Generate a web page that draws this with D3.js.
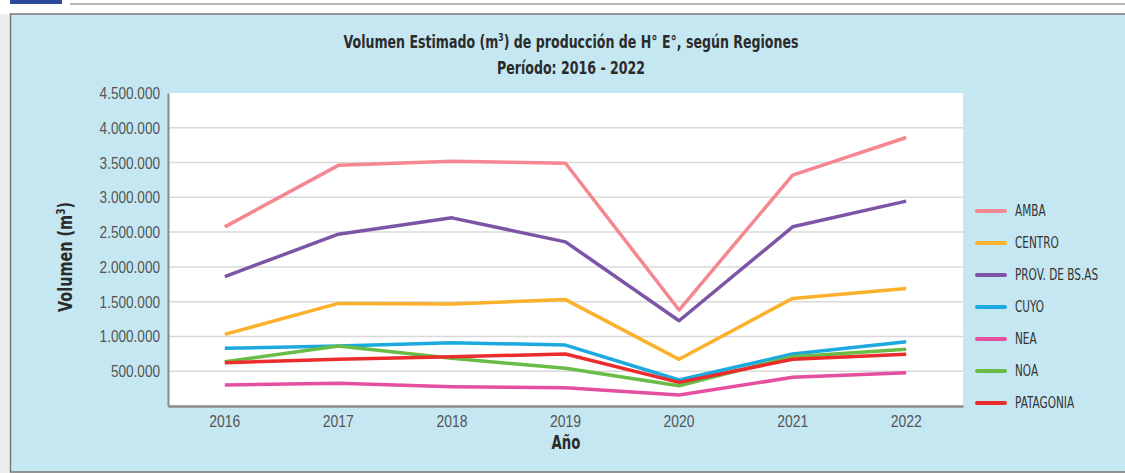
<!DOCTYPE html>
<html lang="es">
<head>
    <meta charset="UTF-8">
    <title>Volumen Estimado de producción de H° E°</title>
    <script src="https://d3js.org/d3.v7.min.js"></script>
    <style>
        body {
            margin: 0;
            background-color: #eeeeee;
            font-family: "DejaVu Sans", sans-serif;
        }
        svg { display: block; }
        .grid line { stroke: #d9d9d9; stroke-width: 1.5px; }
        .tick-label { font-size: 17px; fill: #555; }
        .titulo { font-size: 18px; font-weight: bold; fill: #2b2b2b; }
        .eje-titulo { font-size: 19px; font-weight: bold; fill: #2b2b2b; }
        .leyenda text { font-size: 15px; fill: #333; }
    </style>
</head>
<body>
    <div id="chart"></div>
    <script>
        // Datos
        const anios = ["2016", "2017", "2018", "2019", "2020", "2021", "2022"];
        const regiones = ["AMBA", "CENTRO", "PROV. DE BS.AS", "CUYO", "NEA", "NOA", "PATAGONIA"];
        const colores = ["#f4878f", "#fbb12b", "#7d55a6", "#1ba9e0", "#e64f9f", "#69bc46", "#ec2b2c"];
        const amba = [2575000, 3460000, 3520000, 3490000, 1380000, 3320000, 3860000];
        const centro = [1030000, 1475000, 1466000, 1530000, 671000, 1547000, 1690000];
        const provBsAs = [1860000, 2470000, 2705000, 2360000, 1226000, 2576000, 2945000];
        const cuyo = [829000, 862000, 910000, 876000, 374000, 747000, 924000];
        const nea = [302000, 326000, 277000, 263000, 158000, 412000, 478000];
        const noa = [637000, 862000, 685000, 542000, 292000, 708000, 815000];
        const patagonia = [622000, 671000, 708000, 747000, 340000, 671000, 743000];
        const series = [amba, centro, provBsAs, cuyo, nea, noa, patagonia];
        const yTicks = [500000, 1000000, 1500000, 2000000, 2500000, 3000000, 3500000, 4000000, 4500000];

        const width = 1125, height = 473;
        // la fuente original es condensada: se estrecha el texto en horizontal
        const estrecho = 0.7;

        const svg = d3.select("#chart").append("svg")
            .attr("width", width)
            .attr("height", height);

        // Marco de la página
        svg.append("rect").attr("x", 0).attr("y", 0).attr("width", width).attr("height", 14).attr("fill", "#ffffff");
        svg.append("rect").attr("x", 10).attr("y", 0).attr("width", 52).attr("height", 4).attr("fill", "#2b4a9c");
        svg.append("line").attr("x1", 70).attr("x2", width).attr("y1", 4).attr("y2", 4)
            .attr("stroke", "#9a9a9a").attr("stroke-width", 1.5);
        svg.append("rect")
            .attr("x", 10.5).attr("y", 14).attr("width", width).attr("height", height - 15)
            .attr("fill", "#c5e7f1")
            .attr("stroke", "#777").attr("stroke-width", 1.5);

        // Área del gráfico
        const plot = { left: 168, right: 963, top: 93, bottom: 406 };

        const x = d3.scaleBand()
            .domain(anios)
            .range([plot.left, plot.right]);

        const y = d3.scaleLinear()
            .domain([0, 4500000])
            .range([plot.bottom, plot.top]);

        svg.append("rect")
            .attr("x", plot.left).attr("y", plot.top)
            .attr("width", plot.right - plot.left).attr("height", plot.bottom - plot.top)
            .attr("fill", "#ffffff");

        // Líneas de cuadrícula
        svg.append("g")
            .attr("class", "grid")
            .selectAll("line")
            .data(yTicks.slice(0, -1))
            .join("line")
            .attr("x1", plot.left).attr("x2", plot.right)
            .attr("y1", d => y(d)).attr("y2", d => y(d));

        // Ejes
        const fmt = d => d3.format(",")(d).replace(/,/g, ".");
        const yAxis = svg.append("g")
            .attr("transform", `translate(${plot.left},0)`)
            .call(d3.axisLeft(y).tickValues(yTicks).tickFormat(fmt).tickSize(0).tickPadding(10));
        yAxis.select(".domain").attr("stroke", "#8a8a8a").attr("stroke-width", 2);
        yAxis.selectAll("text")
            .attr("class", "tick-label").attr("font-family", null).attr("font-size", null)
            .attr("transform", "scale(0.8,1)");

        const xAxis = svg.append("g")
            .attr("transform", `translate(0,${plot.bottom})`)
            .call(d3.axisBottom(x).tickSize(0).tickPadding(9));
        xAxis.select(".domain").attr("stroke", "#8a8a8a").attr("stroke-width", 2.5);
        xAxis.selectAll("text")
            .attr("class", "tick-label").attr("font-family", null).attr("font-size", null)
            .attr("transform", "scale(0.82,1)");

        // Líneas de las series
        const linea = d3.line()
            .x((d, i) => x(anios[i]) + x.bandwidth() / 2)
            .y(d => y(d));

        svg.append("g")
            .selectAll("path")
            .data(series)
            .join("path")
            .attr("d", linea)
            .attr("fill", "none")
            .attr("stroke", (d, i) => colores[i])
            .attr("stroke-width", 3.5)
            .attr("stroke-linejoin", "round");

        // Títulos
        const titulo = svg.append("text")
            .attr("class", "titulo")
            .attr("transform", `translate(571,48) scale(${estrecho},1)`)
            .attr("text-anchor", "middle");
        titulo.append("tspan").text("Volumen Estimado (m");
        titulo.append("tspan").attr("font-size", 11).attr("dy", -7).text("3");
        titulo.append("tspan").attr("dy", 7).text(") de producción de H° E°, según Regiones");

        svg.append("text")
            .attr("class", "titulo")
            .attr("transform", `translate(571,74) scale(${estrecho},1)`)
            .attr("text-anchor", "middle")
            .text("Período: 2016 - 2022");

        svg.append("text")
            .attr("class", "eje-titulo")
            .attr("transform", `translate(566,449) scale(${estrecho},1)`)
            .attr("text-anchor", "middle")
            .text("Año");

        const yTitulo = svg.append("text")
            .attr("class", "eje-titulo")
            .attr("transform", `translate(72,257) rotate(-90) scale(0.76,1)`)
            .attr("text-anchor", "middle");
        yTitulo.append("tspan").text("Volumen (m");
        yTitulo.append("tspan").attr("font-size", 12).attr("dy", -7).text("3");
        yTitulo.append("tspan").attr("dy", 7).text(")");

        // Leyenda
        const leyenda = svg.append("g")
            .attr("class", "leyenda")
            .selectAll("g")
            .data(regiones)
            .join("g")
            .attr("transform", (d, i) => `translate(977,${211 + i * 32})`);

        leyenda.append("line")
            .attr("x1", 0).attr("x2", 28)
            .attr("stroke", (d, i) => colores[i])
            .attr("stroke-width", 4)
            .attr("stroke-linecap", "round");

        leyenda.append("text")
            .attr("transform", "translate(38,0) scale(0.7,1)")
            .attr("dy", "0.35em")
            .text(d => d);
    </script>
</body>
</html>
